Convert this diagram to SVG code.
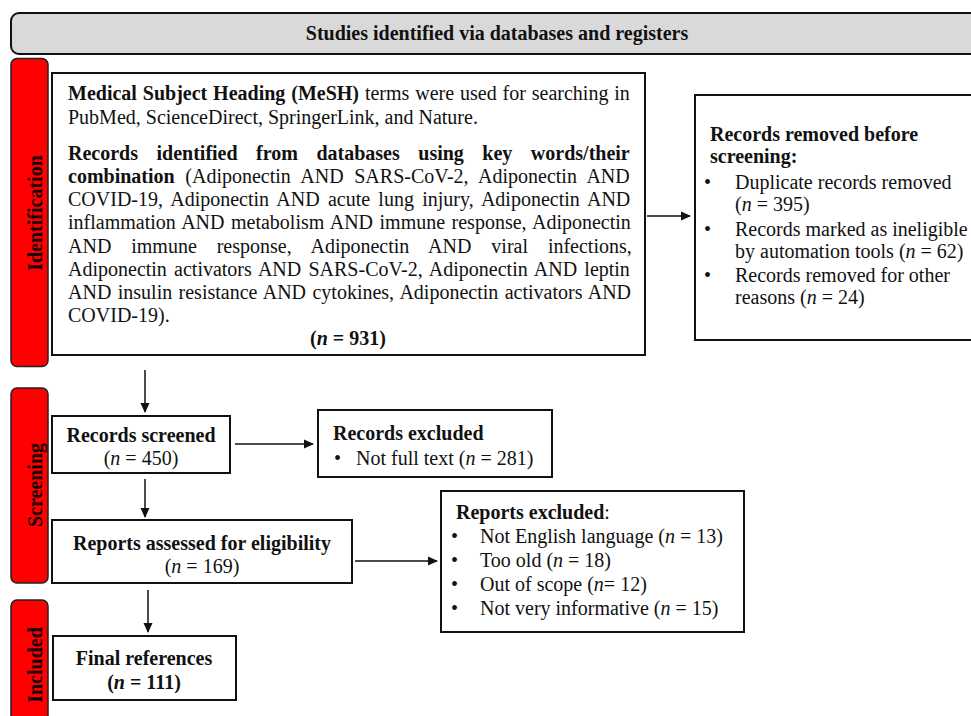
<svg xmlns="http://www.w3.org/2000/svg" width="971" height="716" viewBox="0 0 971 716">
<style>
text{font-family:"Liberation Serif","Times New Roman",serif;font-size:20px;fill:#111}
.b{font-weight:bold}
.i{font-style:italic}
.c{text-anchor:middle}
.box{fill:#fff;stroke:#111;stroke-width:2}
.red{fill:#ff0000;stroke:#222;stroke-width:1.5}
.lbl{font-weight:bold;text-anchor:middle;fill:#1a0000}
.con line{stroke:#111;stroke-width:1.5;marker-end:url(#ah)}
</style>
<defs>
<marker id="ah" markerWidth="10" markerHeight="10" refX="9" refY="5" orient="auto" markerUnits="userSpaceOnUse">
<path d="M0,0.5 L10,5 L0,9.5 Z" fill="#111"/>
</marker>
</defs>
<rect width="971" height="716" fill="#fff"/>

<g id="header">
<rect x="11" y="13" width="985" height="41" rx="8" fill="#d9d9d9" stroke="#111" stroke-width="2"/>
<text class="b c" x="497" y="40">Studies identified via databases and registers</text>
</g>

<g id="phase-identification">
<rect class="red" x="11" y="58.5" width="37" height="308" rx="6"/>
<text class="lbl" transform="translate(42,213) rotate(-90)">Identification</text>
</g>
<g id="phase-screening">
<rect class="red" x="11" y="388" width="37" height="195" rx="6"/>
<text class="lbl" transform="translate(42,485) rotate(-90)">Screening</text>
</g>
<g id="phase-included">
<rect class="red" x="11" y="600" width="37" height="140" rx="6"/>
<text class="lbl" transform="translate(42,665) rotate(-90)">Included</text>
</g>

<g id="identified">
<rect class="box" x="52" y="73" width="593" height="282"/>
<text x="68" y="100" style="word-spacing:0.9px"><tspan class="b">Medical Subject Heading (MeSH)</tspan> terms were used for searching in</text>
<text x="68" y="124">PubMed, ScienceDirect, SpringerLink, and Nature.</text>
<text class="b" x="68" y="160" style="word-spacing:13.5px">Records identified from databases using key words/their</text>
<text x="68" y="183" style="word-spacing:5.6px"><tspan class="b">combination</tspan> (Adiponectin AND SARS-CoV-2, Adiponectin AND</text>
<text x="68" y="206" style="word-spacing:3.3px">COVID-19, Adiponectin AND acute lung injury, Adiponectin AND</text>
<text x="68" y="229" style="word-spacing:1.5px">inflammation AND metabolism AND immune response, Adiponectin</text>
<text x="68" y="253" style="word-spacing:14.9px">AND immune response, Adiponectin AND viral infections,</text>
<text x="68" y="276" style="word-spacing:2.2px">Adiponectin activators AND SARS-CoV-2, Adiponectin AND leptin</text>
<text x="68" y="299" style="word-spacing:1.4px">AND insulin resistance AND cytokines, Adiponectin activators AND</text>
<text x="68" y="322">COVID-19).</text>
<text class="b c" x="348" y="345">(<tspan class="i">n</tspan> = 931)</text>
</g>

<g id="removed">
<rect class="box" x="695" y="95" width="290" height="245"/>
<text class="b" x="710" y="141">Records removed before</text>
<text class="b" x="710" y="163">screening:</text>
<text x="704" y="189">•</text>
<text x="735" y="189">Duplicate records removed</text>
<text x="735" y="211">(<tspan class="i">n</tspan> = 395)</text>
<text x="704" y="236">•</text>
<text x="735" y="236">Records marked as ineligible</text>
<text x="735" y="258">by automation tools (<tspan class="i">n</tspan> = 62)</text>
<text x="704" y="282">•</text>
<text x="735" y="282">Records removed for other</text>
<text x="735" y="304">reasons (<tspan class="i">n</tspan> = 24)</text>
</g>

<g id="screened">
<rect class="box" x="52" y="416" width="178" height="57"/>
<text class="b c" x="141" y="442">Records screened</text>
<text class="c" x="141" y="465">(<tspan class="i">n</tspan> = 450)</text>
</g>

<g id="excluded-records">
<rect class="box" x="318" y="410" width="234" height="67"/>
<text class="b" x="333" y="440">Records excluded</text>
<text x="334" y="465">•</text>
<text x="356" y="465">Not full text (<tspan class="i">n</tspan> = 281)</text>
</g>

<g id="assessed">
<rect class="box" x="52" y="520" width="300" height="63"/>
<text class="b c" x="202" y="550">Reports assessed for eligibility</text>
<text class="c" x="202" y="573">(<tspan class="i">n</tspan> = 169)</text>
</g>

<g id="excluded-reports">
<rect class="box" x="441" y="491" width="303" height="141"/>
<text x="456" y="519"><tspan class="b">Reports excluded</tspan>:</text>
<text x="451" y="543">•</text>
<text x="480" y="543">Not English language (<tspan class="i">n</tspan> = 13)</text>
<text x="451" y="567">•</text>
<text x="480" y="567">Too old (<tspan class="i">n</tspan> = 18)</text>
<text x="451" y="591">•</text>
<text x="480" y="591">Out of scope (<tspan class="i">n</tspan>= 12)</text>
<text x="451" y="615">•</text>
<text x="480" y="615">Not very informative (<tspan class="i">n</tspan> = 15)</text>
</g>

<g id="final">
<rect class="box" x="53" y="636" width="183" height="64"/>
<text class="b c" x="144" y="665">Final references</text>
<text class="b c" x="144" y="689">(<tspan class="i">n</tspan> = 111)</text>
</g>

<g id="connectors" class="con">
<line x1="647" y1="216" x2="690" y2="216"/>
<line x1="145" y1="370" x2="145" y2="412"/>
<line x1="235" y1="444" x2="313" y2="444"/>
<line x1="145" y1="479" x2="145" y2="517"/>
<line x1="355" y1="561" x2="437" y2="561"/>
<line x1="148" y1="590" x2="148" y2="632"/>
</g>
</svg>
